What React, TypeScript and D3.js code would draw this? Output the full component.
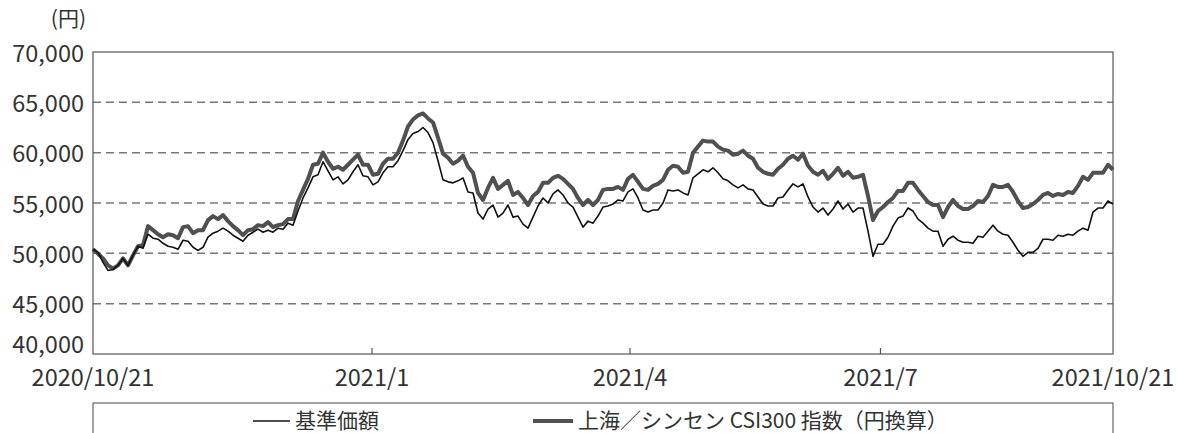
import * as d3 from 'd3';
import { useEffect, useRef } from 'react';

// 基準価額 (thin line), one value per step
const fundValues = [
  50400, 50100, 49100, 48300, 48400, 48800, 49500, 48800, 49800, 50700,
  50500, 51900, 51500, 51400, 51000, 50700, 50600, 50400, 51300, 51200,
  50600, 50300, 50600, 51600, 52000, 52200, 52500, 52200, 51800, 51500,
  51200, 51800, 52100, 52400, 52100, 52300, 52100, 52500, 52400, 53000,
  52800, 54200, 55500, 56500, 57600, 57800, 59100, 58200, 57300, 57600,
  56900, 57300, 58100, 58800, 57700, 57600, 56800, 57100, 58000, 58600,
  58600, 59200, 60200, 61300, 61900, 62100, 62500, 62000, 61000, 59200,
  57300, 57100, 57000, 57200, 57500, 56100, 56000, 54000, 53400, 54400,
  54800, 53600, 54000, 54800, 53600, 53700, 52900, 52500, 53600, 54700,
  55500, 55000, 55900, 56300, 55800, 55000, 54600, 53600, 52600, 53200,
  53000, 53700, 54600, 54700, 54900, 55300, 55200, 56100, 56400, 55500,
  54300, 54100, 54300, 54300, 55000, 56300, 56200, 56300, 56000, 55800,
  57500, 57900, 58300, 58100, 58500, 58000, 57400, 57200, 56800, 56500,
  56800, 56400, 56300, 55600, 54900, 54700, 54700, 55500, 55600, 56300,
  56900, 56600, 56900, 55600, 54600, 54100, 54500, 53800, 54400, 55200,
  54400, 54900, 54100, 54500, 54500, 52200, 49700, 50900, 50900, 51600,
  52700, 53500, 53700, 54500, 54200, 53400, 53000, 52500, 52200, 52200,
  50700, 51400, 51700, 51300, 51100, 51100, 51000, 51700, 51600, 52200,
  52800, 52200, 51900, 51800, 51100, 50300, 49700, 50100, 50100, 50500,
  51400, 51400, 51300, 51800, 51700, 51900, 51800, 52200, 52500, 52300,
  54100, 54500, 54500, 55200, 54900,
];

// 上海／シンセン CSI300 指数（円換算） (thick line)
const csiValues = [
  50400, 49950, 49500, 48800, 48500, 48800, 49500, 48800, 49800, 50700,
  50800, 52700, 52300, 51900, 51600, 51900, 51800, 51500, 52600, 52700,
  52000, 52300, 52300, 53300, 53700, 53400, 53800, 53200, 52700, 52300,
  51800, 52300, 52400, 52800, 52700, 53100, 52600, 52800, 52900, 53400,
  53400, 55200, 56300, 57400, 58800, 58900, 60000, 59100, 58400, 58600,
  58300, 58800, 59300, 59800, 58800, 58800, 57800, 57900, 58900, 59400,
  59400, 60000, 61200, 62600, 63300, 63700, 63900, 63400, 63000, 61500,
  59900, 59500, 58900, 59200, 59700, 58600, 58000, 56000, 55300, 56500,
  57500, 56400, 56800, 57200, 55800, 56100, 55500, 54800, 55700, 56100,
  57000, 57000, 57500, 57700, 57400, 56900, 56400, 55500, 54800, 55300,
  54800, 55300, 56300, 56400, 56400, 56600, 56300, 57400, 57800, 57100,
  56400, 56300, 56700, 56900, 57300, 58300, 58700, 58600, 58000, 58100,
  60000, 60600, 61200, 61100, 61100, 60600, 60300, 60200, 59800, 59900,
  60200, 59700, 59400, 58500, 58100, 57900, 57800, 58400, 58800, 59400,
  59700, 59300, 59900, 58700, 58100, 57800, 58200, 57400, 57900, 58500,
  57700, 58100, 57500, 57600, 57800, 55700, 53300, 54200, 54600, 55100,
  55500, 56200, 56200, 57000, 57000, 56300, 55700, 55100, 54800, 54800,
  53600, 54600, 55300, 54700, 54400, 54400, 54700, 55200, 55100, 55700,
  56800, 56600, 56600, 56800, 56100, 55200, 54500, 54600, 54900, 55300,
  55800, 56000, 55700, 55900, 55800, 56100, 56000, 56700, 57600, 57300,
  58000, 58000, 58000, 58800, 58300,
];

const yTicks = [40000, 45000, 50000, 55000, 60000, 65000, 70000];
// position of each date label, in steps from the first day
const xTickSteps = [0, 55.8, 107.4, 157.5, 204];
const xTickLabels = ['2020/10/21', '2021/1', '2021/4', '2021/7', '2021/10/21'];
const seriesNames = ['基準価額', '上海／シンセン CSI300 指数（円換算）'];

const FONT = '"Noto Sans CJK JP", "Noto Sans", sans-serif';

const App = () => {
  const svgRef = useRef(null);

  useEffect(() => {
    const svg = d3.select(svgRef.current);
    svg.selectAll('*').remove();

    const left = 93, right = 1113, top = 52, bottom = 354;

    const x = d3.scaleLinear().domain([0, fundValues.length - 1]).range([left, right]);
    const y = d3.scaleLinear().domain([40000, 70000]).range([bottom, top]);

    // dashed grid
    svg.append('g')
      .selectAll('line')
      .data(yTicks.filter(d => d > 40000 && d < 70000))
      .enter()
      .append('line')
      .attr('x1', left)
      .attr('x2', right)
      .attr('y1', d => y(d))
      .attr('y2', d => y(d))
      .attr('stroke', '#777')
      .attr('stroke-width', 1.5)
      .attr('stroke-dasharray', '8,5');

    // frame
    svg.append('rect')
      .attr('x', left)
      .attr('y', top)
      .attr('width', right - left)
      .attr('height', bottom - top)
      .attr('fill', 'none')
      .attr('stroke', '#555')
      .attr('stroke-width', 1.2);

    // inner tick marks on the bottom
    svg.append('g')
      .selectAll('line')
      .data(xTickSteps.slice(1, -1))
      .enter()
      .append('line')
      .attr('x1', d => x(d))
      .attr('x2', d => x(d))
      .attr('y1', bottom)
      .attr('y2', bottom - 6)
      .attr('stroke', '#555')
      .attr('stroke-width', 1.2);

    const line = d3.line<number>()
      .x((_, i) => x(i))
      .y(d => y(d));

    svg.append('path')
      .datum(csiValues)
      .attr('d', line)
      .attr('fill', 'none')
      .attr('stroke', '#505050')
      .attr('stroke-width', 4)
      .attr('stroke-linejoin', 'round');

    svg.append('path')
      .datum(fundValues)
      .attr('d', line)
      .attr('fill', 'none')
      .attr('stroke', '#111')
      .attr('stroke-width', 1.6)
      .attr('stroke-linejoin', 'round');

    // y labels (the lowest one is nudged up, clear of the date below)
    svg.append('g')
      .selectAll('text')
      .data(yTicks)
      .enter()
      .append('text')
      .attr('x', 84)
      .attr('y', d => (d === 40000 ? y(d) - 9 : y(d) + 1.5))
      .attr('dy', '0.35em')
      .attr('text-anchor', 'end')
      .style('font-family', FONT)
      .style('font-size', '23.5px')
      .style('fill', '#333')
      .text(d => d3.format(',')(d));

    svg.append('text')
      .attr('x', 86)
      .attr('y', 19)
      .attr('dy', '0.35em')
      .attr('text-anchor', 'end')
      .style('font-family', FONT)
      .style('font-size', '21px')
      .style('fill', '#333')
      .text('(円)');

    // x labels
    svg.append('g')
      .selectAll('text')
      .data(xTickSteps)
      .enter()
      .append('text')
      .attr('x', d => x(d))
      .attr('y', 378)
      .attr('dy', '0.35em')
      .attr('text-anchor', 'middle')
      .style('font-family', FONT)
      .style('font-size', '23.5px')
      .style('fill', '#333')
      .text((_, i) => xTickLabels[i]);

    // legend box (runs off the bottom edge)
    svg.append('rect')
      .attr('x', left)
      .attr('y', 403)
      .attr('width', right - left)
      .attr('height', 50)
      .attr('fill', 'none')
      .attr('stroke', '#666')
      .attr('stroke-width', 1.2);

    const legend = [
      { x: 253, len: 37, color: '#111', width: 1.6 },
      { x: 533, len: 40, color: '#505050', width: 4 },
    ];
    legend.forEach((l, i) => {
      svg.append('line')
        .attr('x1', l.x)
        .attr('x2', l.x + l.len)
        .attr('y1', 421)
        .attr('y2', 421)
        .attr('stroke', l.color)
        .attr('stroke-width', l.width);
      svg.append('text')
        .attr('x', l.x + l.len + 5)
        .attr('y', 421)
        .attr('dy', '0.35em')
        .style('font-family', FONT)
        .style('font-size', '21px')
        .style('fill', '#333')
        .text(seriesNames[i]);
    });
  }, []);

  return (
    <svg
      ref={svgRef}
      width={1178}
      height={433}
      style={{ position: 'absolute', left: 0, top: 0, background: '#fff' }}
    ></svg>
  );
};

export default App;
